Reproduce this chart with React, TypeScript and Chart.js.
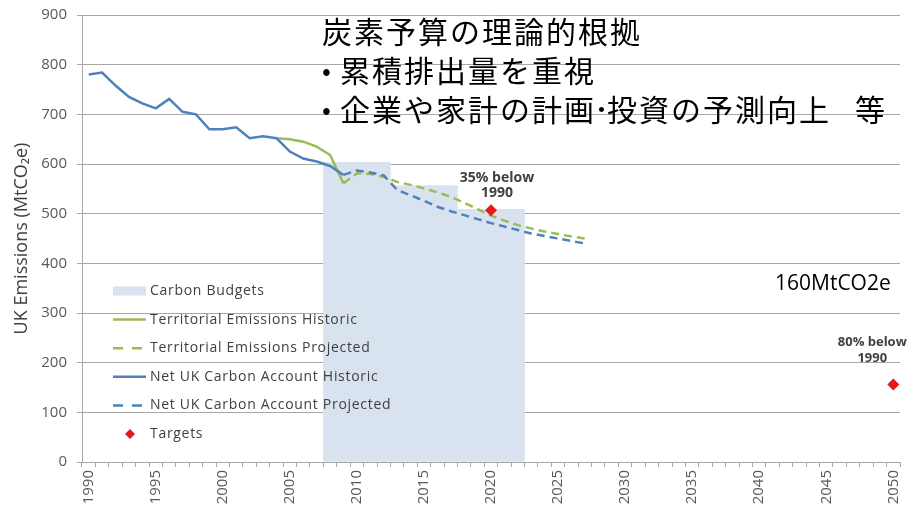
import { useEffect, useRef } from "react";
import { Chart, registerables } from "chart.js";

Chart.register(...registerables);

// ---------- data ----------
const YEARS: string[] = [
  "1990", "1991", "1992", "1993", "1994", "1995", "1996", "1997", "1998", "1999",
  "2000", "2001", "2002", "2003", "2004", "2005", "2006", "2007", "2008", "2009",
  "2010", "2011", "2012", "2013", "2014", "2015", "2016", "2017", "2018", "2019",
  "2020", "2021", "2022", "2023", "2024", "2025", "2026", "2027", "2028", "2029",
  "2030", "2031", "2032", "2033", "2034", "2035", "2036", "2037", "2038", "2039",
  "2040", "2041", "2042", "2043", "2044", "2045", "2046", "2047", "2048", "2049",
  "2050",
];

const NET_HIST_YEARS = [
  "1990", "1991", "1992", "1993", "1994", "1995", "1996", "1997", "1998", "1999",
  "2000", "2001", "2002", "2003", "2004", "2005", "2006", "2007", "2008", "2009",
];
const NET_HIST = [780, 784, 758, 735, 722, 712, 731, 705, 700, 670, 670, 674, 652, 656, 652, 625, 611, 605, 596, 578];

const TERR_HIST_YEARS = ["2004", "2005", "2006", "2007", "2008", "2009"];
const TERR_HIST = [652, 650, 645, 635, 618, 561];

const PROJ_YEARS = [
  "2009", "2010", "2011", "2012", "2013", "2014", "2015", "2016", "2017", "2018",
  "2019", "2020", "2021", "2022", "2023", "2024", "2025", "2026", "2027",
];
const NET_PROJ = [578, 587, 583, 577, 548, 537, 526, 514, 505, 497, 489, 481, 474, 467, 460, 455, 450, 445, 440];
const TERR_PROJ = [561, 581, 580, 574, 564, 558, 551, 543, 534, 522, 509, 496, 486, 477, 470, 464, 459, 454, 450];

const BUDGET_START = [2008, 2013, 2018];
const BUDGET_END = [2012, 2017, 2022];
const BUDGET_LEVEL = [603.6, 556.4, 508.8];

const TARGET_YEARS = ["2020", "2050"];
const TARGET_VALUES = [507, 156];
const TARGET_LABELS = [["35% below", "1990"], ["80% below", "1990"]];

const LEGEND_LABELS = [
  "Carbon Budgets",
  "Territorial Emissions Historic",
  "Territorial Emissions Projected",
  "Net UK Carbon Account Historic",
  "Net UK Carbon Account Projected",
  "Targets",
];

// ---------- styles ----------
const BLUE = "#4f81bd";
const GREEN = "#9bbb59";
const BUDGET_COLOR = "rgb(217,227,240)";
const RED = "#e41a1a";
const GRID = "#a8a8a8";
const FONT = '"Open Sans", "Liberation Sans", sans-serif';

const toPoints = (xs: string[], ys: number[]) => xs.map((x, i) => ({ x, y: ys[i] }));

const budgetPoints: { x: string; y: number }[] = [];
BUDGET_START.forEach((s, b) => {
  for (let yr = s; yr <= BUDGET_END[b]; yr++) budgetPoints.push({ x: String(yr), y: BUDGET_LEVEL[b] });
});

const overlayPlugin = {
  id: "overlay",
  afterDatasetsDraw(chart: any) {
    const { ctx, chartArea, scales } = chart;
    const xs = scales.x;
    const ys = scales.y;
    ctx.save();

    // annotations for targets
    ctx.fillStyle = "#404040";
    ctx.textAlign = "center";
    ctx.textBaseline = "middle";
    const idx0 = YEARS.indexOf(TARGET_YEARS[0]);
    const idx1 = YEARS.indexOf(TARGET_YEARS[1]);
    ctx.font = `bold 14px ${FONT}`;
    ctx.fillText(TARGET_LABELS[0][0], xs.getPixelForValue(idx0) + 6, ys.getPixelForValue(572));
    ctx.fillText(TARGET_LABELS[0][1], xs.getPixelForValue(idx0) + 6, ys.getPixelForValue(542));
    ctx.font = `bold 13px ${FONT}`;
    ctx.fillText(TARGET_LABELS[1][0], xs.getPixelForValue(idx1) - 21, ys.getPixelForValue(242));
    ctx.fillText(TARGET_LABELS[1][1], xs.getPixelForValue(idx1) - 21, ys.getPixelForValue(209));

    // legend
    const x0 = chartArea.left + 31;
    const tx = chartArea.left + 68;
    const y0 = chartArea.top + 276;
    const step = 28.6;
    ctx.font = `14px ${FONT}`;
    ctx.textAlign = "left";
    LEGEND_LABELS.forEach((label, i) => {
      const y = y0 + i * step;
      ctx.setLineDash([]);
      if (i === 0) {
        ctx.fillStyle = BUDGET_COLOR;
        ctx.fillRect(x0, y - 4.5, 33, 9);
      } else if (i === 5) {
        ctx.fillStyle = RED;
        ctx.beginPath();
        ctx.moveTo(x0 + 17, y - 5);
        ctx.lineTo(x0 + 22, y);
        ctx.lineTo(x0 + 17, y + 5);
        ctx.lineTo(x0 + 12, y);
        ctx.closePath();
        ctx.fill();
      } else {
        ctx.strokeStyle = i <= 2 ? GREEN : BLUE;
        ctx.lineWidth = 2.5;
        if (i === 2 || i === 4) ctx.setLineDash([10, 9]);
        ctx.beginPath();
        ctx.moveTo(x0, y);
        ctx.lineTo(x0 + 33, y);
        ctx.stroke();
      }
      ctx.setLineDash([]);
      ctx.fillStyle = "#404040";
      (ctx as any).letterSpacing = "0.7px";
      ctx.fillText(label, tx, y);
      (ctx as any).letterSpacing = "0px";
    });
    ctx.restore();
  },
};

export default function App() {
  const ref = useRef<HTMLCanvasElement>(null);

  useEffect(() => {
    document.body.style.margin = "0";
    document.body.style.overflow = "hidden";
    const canvas = ref.current!;
    const chart = new Chart(canvas, {
      type: "line",
      data: {
        labels: YEARS,
        datasets: [
          {
            type: "bar",
            label: LEGEND_LABELS[0],
            data: budgetPoints,
            backgroundColor: BUDGET_COLOR,
            borderWidth: 0,
            barPercentage: 1,
            categoryPercentage: 1,
            order: 10,
          } as any,
          {
            label: LEGEND_LABELS[1],
            data: toPoints(TERR_HIST_YEARS, TERR_HIST),
            borderColor: GREEN,
            borderWidth: 2.5,
            pointRadius: 0,
            tension: 0,
            order: 5,
          },
          {
            label: LEGEND_LABELS[2],
            data: toPoints(PROJ_YEARS, TERR_PROJ),
            borderColor: GREEN,
            borderWidth: 2.5,
            borderDash: [8, 5],
            pointRadius: 0,
            tension: 0,
            order: 4,
          },
          {
            label: LEGEND_LABELS[3],
            data: toPoints(NET_HIST_YEARS, NET_HIST),
            borderColor: BLUE,
            borderWidth: 2.5,
            pointRadius: 0,
            tension: 0,
            order: 3,
          },
          {
            label: LEGEND_LABELS[4],
            data: toPoints(PROJ_YEARS, NET_PROJ),
            borderColor: BLUE,
            borderWidth: 2.5,
            borderDash: [8, 5],
            pointRadius: 0,
            tension: 0,
            order: 2,
          },
          {
            label: LEGEND_LABELS[5],
            data: toPoints(TARGET_YEARS, TARGET_VALUES),
            showLine: false,
            pointStyle: "rectRot",
            pointRadius: 6,
            backgroundColor: RED,
            borderColor: RED,
            borderWidth: 0,
            order: 1,
          },
        ],
      },
      options: {
        responsive: false,
        animation: false,
        events: [],
        layout: { padding: { top: 15, right: 15, left: 0, bottom: 0 } },
        plugins: { legend: { display: false }, tooltip: { enabled: false } },
        scales: {
          x: {
            type: "category",
            offset: true,
            grid: {
              display: true,
              offset: true,
              drawOnChartArea: false,
              drawTicks: true,
              tickLength: 5,
              color: GRID,
            },
            border: { display: true, color: GRID },
            ticks: {
              autoSkip: false,
              maxRotation: 90,
              minRotation: 90,
              padding: 3,
              color: "#595959",
              font: { family: FONT, size: 15 },
              callback: (_v: any, i: number) => (i % 5 === 0 ? YEARS[i] : ""),
            },
            afterFit: (s: any) => {
              s.height = 46;
              s.paddingLeft = 0;
              s.paddingRight = 0;
            },
          },
          y: {
            min: 0,
            max: 900,
            ticks: {
              stepSize: 100,
              padding: 10,
              color: "#595959",
              font: { family: FONT, size: 15 },
            },
            grid: { color: GRID, tickLength: 5 },
            border: { color: GRID },
            title: {
              display: true,
              text: "UK Emissions (MtCO₂e)",
              color: "#404040",
              font: { family: FONT, size: 18 },
              padding: { top: 11, bottom: 0 },
            },
            afterFit: (s: any) => {
              s.width = 82;
              s.paddingTop = 0;
              s.paddingBottom = 0;
            },
          },
        },
      } as any,
      plugins: [overlayPlugin],
    });
    return () => chart.destroy();
  }, []);

  const jp: React.CSSProperties = {
    position: "absolute",
    left: 322,
    font: '30px "Noto Sans CJK JP", sans-serif',
    letterSpacing: "2px",
    lineHeight: "39px",
    whiteSpace: "nowrap",
    color: "#000",
  };
  const bullet: React.CSSProperties = {
    display: "inline-block",
    width: 18,
    letterSpacing: 0,
    fontSize: 26,
    position: "relative",
    top: -2,
  };

  return (
    <div style={{ position: "relative", width: 915, height: 508, background: "#fff", overflow: "hidden" }}>
      <canvas ref={ref} width={915} height={508} style={{ position: "absolute", left: 0, top: 0 }} />
      <div style={{ ...jp, top: 11 }}>炭素予算の理論的根拠</div>
      <div style={{ ...jp, top: 50 }}>
        <span style={bullet}>•</span>累積排出量を重視
      </div>
      <div style={{ ...jp, top: 89 }}>
        <span style={bullet}>•</span>企業や家計の計画<span style={{ letterSpacing: 0, margin: "0 -2px" }}>･</span>投資の予測向上<span style={{ display: "inline-block", width: 24 }} />等
      </div>
      <div
        style={{
          position: "absolute",
          left: 775,
          top: 267,
          font: `21px ${FONT}`,
          lineHeight: "30px",
          color: "#000",
          whiteSpace: "nowrap",
        }}
      >
        160MtCO2e
      </div>
    </div>
  );
}
